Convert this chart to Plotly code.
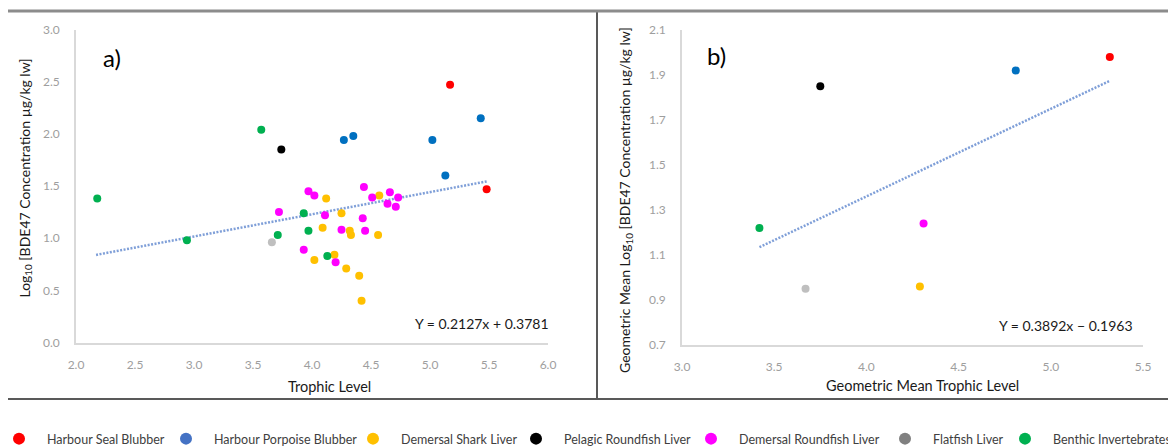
import plotly.graph_objects as go

W, H = 1176, 448
OFF = 8  # page body margin of the html page

groups = ["Harbour Seal Blubber", "Harbour Porpoise Blubber", "Demersal Shark Liver",
          "Pelagic Roundfish Liver", "Demersal Roundfish Liver", "Flatfish Liver",
          "Benthic Invertebrates"]
point_colors = ["#FF0000", "#0070C0", "#FFC000", "#000000", "#FF00FF", "#BFBFBF", "#00B050"]
legend_colors = ["#FF0000", "#4472C4", "#FFC000", "#000000", "#FF00FF", "#808080", "#00B050"]

# Panel a) individual samples: trophic level vs log10 BDE47
seal_tl = [5.17, 5.48]
seal_conc = [2.47, 1.47]
porpoise_tl = [4.27, 4.35, 5.02, 5.43, 5.13]
porpoise_conc = [1.94, 1.98, 1.94, 2.15, 1.60]
shark_tl = [4.12, 4.25, 4.57, 4.09, 4.32, 4.33, 4.56, 4.02, 4.19, 4.29, 4.40, 4.42]
shark_conc = [1.38, 1.24, 1.41, 1.10, 1.07, 1.03, 1.03, 0.79, 0.84, 0.71, 0.64, 0.40]
pelagic_tl = [3.74]
pelagic_conc = [1.85]
roundfish_tl = [3.97, 4.02, 3.72, 4.11, 4.44, 4.51, 4.66, 4.73, 4.64, 4.71, 4.43, 4.25, 4.45, 3.93, 4.20]
roundfish_conc = [1.45, 1.41, 1.25, 1.22, 1.49, 1.39, 1.44, 1.39, 1.33, 1.30, 1.19, 1.08, 1.07, 0.89, 0.77]
flatfish_tl = [3.66]
flatfish_conc = [0.96]
benthic_tl = [2.18, 2.94, 3.57, 3.93, 3.97, 3.71, 4.13]
benthic_conc = [1.38, 0.98, 2.04, 1.24, 1.07, 1.03, 0.83]

# Panel b) geometric means per group (same order as groups)
gm_tl = [5.32, 4.81, 4.29, 3.75, 4.31, 3.67, 3.42]
gm_conc = [1.98, 1.92, 0.96, 1.85, 1.24, 0.95, 1.22]

# Regression lines as stated on the chart
fit_a_slope, fit_a_icpt = 0.2127, 0.3781
fit_a_x = [2.17, 5.48]
fit_b_slope, fit_b_icpt = 0.3892, -0.1963
fit_b_x = [3.42, 5.32]

eq_a_text = "Y = 0.2127x + 0.3781"
eq_b_text = "Y = 0.3892x \u2212 0.1963"

x_ticks_a = [2.0, 2.5, 3.0, 3.5, 4.0, 4.5, 5.0, 5.5, 6.0]
y_ticks_a = [0.0, 0.5, 1.0, 1.5, 2.0, 2.5, 3.0]
x_ticks_b = [3.0, 3.5, 4.0, 4.5, 5.0, 5.5]
y_ticks_b = [0.7, 0.9, 1.1, 1.3, 1.5, 1.7, 1.9, 2.1]

FONT = "Lato"
TICKC = "#9E9E9E"
AXLINE = "#D9D9D9"
TREND = "#7F9FD8"


def px(x):
    return (x - OFF) / W


def py(y):
    return 1 - (y - OFF) / H


fig = go.Figure()

panel_a = [(seal_tl, seal_conc), (porpoise_tl, porpoise_conc), (shark_tl, shark_conc),
           (pelagic_tl, pelagic_conc), (roundfish_tl, roundfish_conc),
           (flatfish_tl, flatfish_conc), (benthic_tl, benthic_conc)]

# trend lines first (behind points)
fig.add_trace(go.Scatter(
    x=fit_a_x, y=[fit_a_slope * v + fit_a_icpt for v in fit_a_x],
    mode="lines", line=dict(color=TREND, width=2.5, dash="2px,1.5px"),
    showlegend=False, hoverinfo="skip", xaxis="x", yaxis="y"))
fig.add_trace(go.Scatter(
    x=fit_b_x, y=[fit_b_slope * v + fit_b_icpt for v in fit_b_x],
    mode="lines", line=dict(color=TREND, width=2.5, dash="2px,1.5px"),
    showlegend=False, hoverinfo="skip", xaxis="x2", yaxis="y2"))

for name, col, (xs, ys) in zip(groups, point_colors, panel_a):
    fig.add_trace(go.Scatter(
        x=xs, y=ys, mode="markers", name=name,
        marker=dict(color=col, size=8, line=dict(width=0)),
        showlegend=False, xaxis="x", yaxis="y"))

for i, (name, col) in enumerate(zip(groups, point_colors)):
    fig.add_trace(go.Scatter(
        x=[gm_tl[i]], y=[gm_conc[i]], mode="markers", name=name,
        marker=dict(color=col, size=8, line=dict(width=0)),
        showlegend=False, xaxis="x2", yaxis="y2"))

# legend entries (split across two legend boxes so that one row fits)
legend_widths = [106, 126, 102, 125, 133, 59, 120]
legend_ids = ["legend", "legend", "legend", "legend", "legend2", "legend2", "legend2"]
for name, col, lw, lg in zip(groups, legend_colors, legend_widths, legend_ids):
    fig.add_trace(go.Scatter(
        x=[None], y=[None], mode="markers", name=name,
        marker=dict(color=col, size=12, line=dict(width=0)),
        showlegend=True, legendwidth=lw, legend=lg, xaxis="x", yaxis="y"))

axis_common = dict(showgrid=False, zeroline=False, showline=True, linecolor=AXLINE,
                   linewidth=1.5, ticks="", tickfont=dict(family=FONT, size=12, color=TICKC),
                   fixedrange=True)

legend_common = dict(orientation="h", y=py(439), yanchor="middle",
                     itemwidth=46, itemsizing="constant", tracegroupgap=0,
                     font=dict(family=FONT, size=12.5, color="#404040"),
                     bgcolor="rgba(0,0,0,0)", borderwidth=0)

fig.update_layout(
    width=W, height=H,
    margin=dict(l=0, r=0, t=0, b=0, autoexpand=False),
    paper_bgcolor="white", plot_bgcolor="white",
    font=dict(family=FONT),
    xaxis=dict(domain=[px(76), px(548)], range=[2.0, 6.0], tickvals=x_ticks_a,
               ticktext=[f"{v:.1f}" for v in x_ticks_a], anchor="y",
               ticklabelstandoff=10, **axis_common),
    yaxis=dict(domain=[py(342.5), py(29.5)], range=[0.0, 3.0], tickvals=y_ticks_a,
               ticktext=[f"{v:.1f}" for v in y_ticks_a], anchor="x",
               ticklabelstandoff=12, **axis_common),
    xaxis2=dict(domain=[px(682), px(1143)], range=[3.0, 5.5], tickvals=x_ticks_b,
                ticktext=[f"{v:.1f}" for v in x_ticks_b], anchor="y2",
                ticklabelstandoff=10, **axis_common),
    yaxis2=dict(domain=[py(345), py(30)], range=[0.7, 2.1], tickvals=y_ticks_b,
                ticktext=[f"{v:.1f}" for v in y_ticks_b], anchor="x2",
                ticklabelstandoff=12, **axis_common),
    legend=dict(x=px(694), xanchor="right", **legend_common),
    legend2=dict(x=px(683), xanchor="left", **legend_common),
    showlegend=True,
)

ann_font = dict(family=FONT, size=14, color="#1a1a1a")
annotations = [
    dict(text="a)", x=px(112), y=py(57), font=dict(family=FONT, size=24, color="#000000")),
    dict(text="b)", x=px(716), y=py(55), font=dict(family=FONT, size=24, color="#000000")),
    dict(text=eq_a_text, x=px(413), y=py(323), xanchor="left", font=ann_font),
    dict(text=eq_b_text, x=px(997), y=py(325), xanchor="left", font=ann_font),
    dict(text="Trophic Level", x=px(329), y=py(386), font=dict(family=FONT, size=14.5, color="#1a1a1a")),
    dict(text="Geometric Mean Trophic Level", x=px(923), y=py(385),
         font=dict(family=FONT, size=14.5, color="#1a1a1a")),
    dict(text="Log<sub>10</sub> [BDE47 Concentration \u00b5g/kg lw]", x=px(25), y=py(178.5),
         textangle=-90, font=ann_font),
    dict(text="Geometric Mean Log<sub>10</sub> [BDE47 Concentration \u00b5g/kg lw]", x=px(625),
         y=py(200), textangle=-90, font=ann_font),
]
for a in annotations:
    a.setdefault("xanchor", "center")
    a.update(xref="paper", yref="paper", yanchor="middle", showarrow=False)
fig.update_layout(annotations=annotations)

BORDER = "#595959"
shapes = [
    dict(type="line", x0=px(7), x1=px(7), y0=py(11), y1=py(399)),
    dict(type="line", x0=px(597), x1=px(597), y0=py(11), y1=py(399)),
    dict(type="line", x0=px(7), x1=px(1184), y0=py(399), y1=py(399)),
]
for s in shapes:
    s.update(xref="paper", yref="paper", line=dict(color=BORDER, width=2))
shapes.append(dict(type="line", xref="paper", yref="paper", x0=px(7), x1=px(1184),
                   y0=py(11), y1=py(11), line=dict(color="#8C8C8C", width=3)))
fig.update_layout(shapes=shapes)

fig.write_html("out.html")
